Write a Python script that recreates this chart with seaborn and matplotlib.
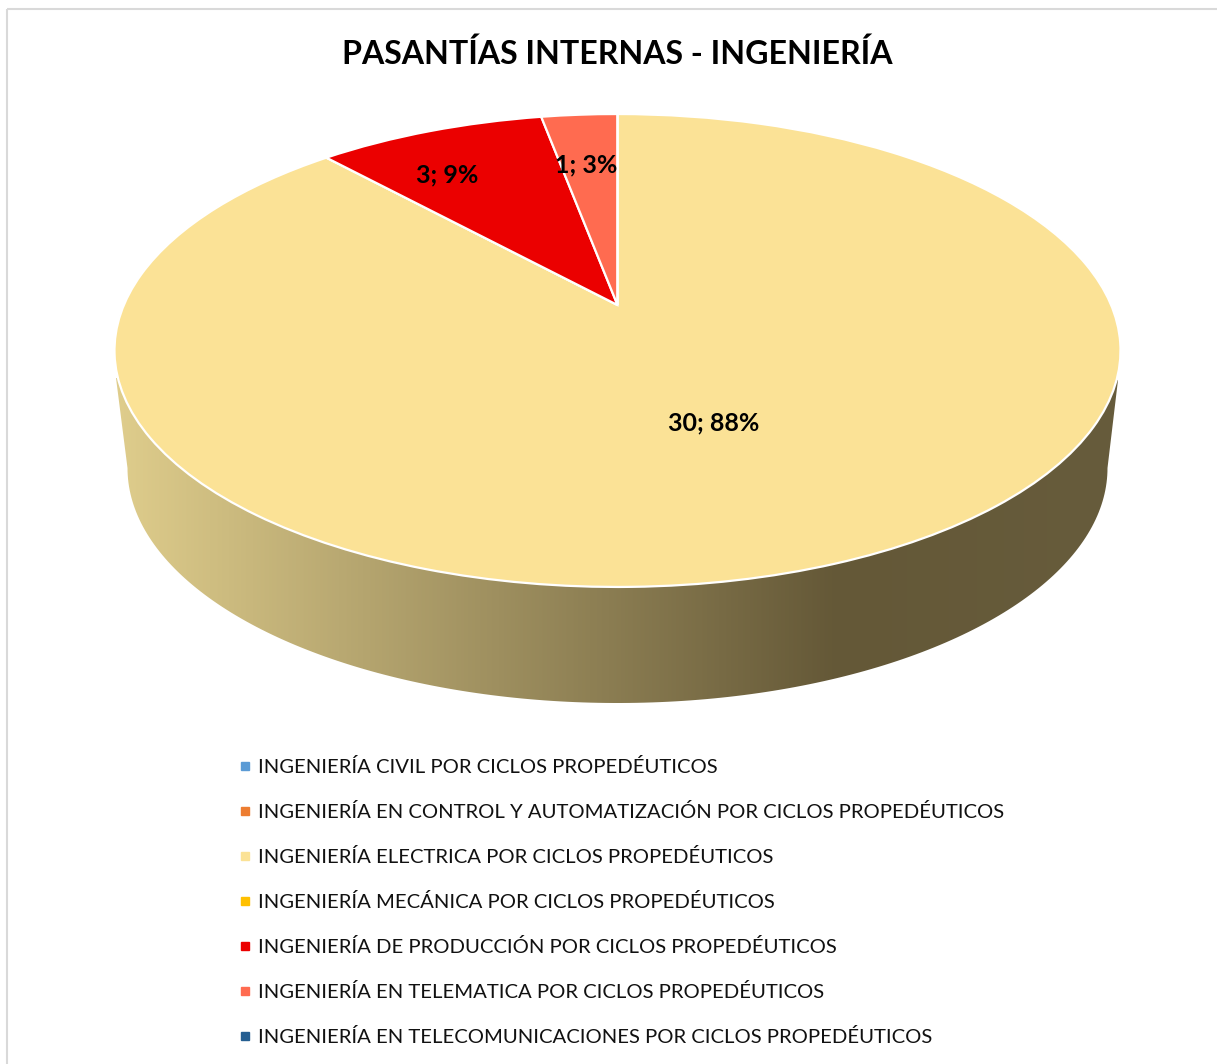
import numpy as np
import matplotlib
matplotlib.use('Agg')
import matplotlib.pyplot as plt
import seaborn as sns
from matplotlib.colors import LinearSegmentedColormap
from matplotlib.lines import Line2D
from matplotlib.patches import Polygon, Rectangle
from matplotlib.transforms import Transform

# --- datos ---
programas = [
    'INGENIERÍA CIVIL POR CICLOS PROPEDÉUTICOS',
    'INGENIERÍA EN CONTROL Y AUTOMATIZACIÓN POR CICLOS PROPEDÉUTICOS',
    'INGENIERÍA ELECTRICA POR CICLOS PROPEDÉUTICOS',
    'INGENIERÍA MECÁNICA POR CICLOS PROPEDÉUTICOS',
    'INGENIERÍA DE PRODUCCIÓN POR CICLOS PROPEDÉUTICOS',
    'INGENIERÍA EN TELEMATICA POR CICLOS PROPEDÉUTICOS',
    'INGENIERÍA EN TELECOMUNICACIONES POR CICLOS PROPEDÉUTICOS',
]
pasantias = [0, 0, 30, 0, 3, 1, 0]
colores = ['#5B9BD5', '#ED7D31', '#FBE296', '#FFC000', '#EB0000', '#FF6B50', '#255E91']
titulo = 'PASANTÍAS INTERNAS - INGENIERÍA'

# --- geometria de la vista inclinada (pixeles) ---
CX, APEX_Y = 617.5, 305.0
A, B, K = 493.6, 227.7, 0.1924


class Perspectiva(Transform):
    """Lleva el circulo unitario del pie a la elipse inclinada."""
    input_dims = 2
    output_dims = 2
    is_affine = False

    def transform_non_affine(self, values):
        values = np.asarray(values, dtype=float)
        den = 1 + K * values[:, 1]
        return np.column_stack([CX + A * values[:, 0] / den, APEX_Y - B * values[:, 1] / den])


sns.set_theme(style='white')
plt.rcParams['font.family'] = ['Lato', 'DejaVu Sans']

fig = plt.figure(figsize=(12.17, 10.64), dpi=100)
ax = fig.add_axes([0, 0, 1, 1])

wedges, _ = ax.pie(pasantias, colors=colores, startangle=90, counterclock=False,
                   wedgeprops={'edgecolor': 'white', 'linewidth': 1.6})
for w in wedges:
    w.set_transform(Perspectiva() + ax.transData)
    w.set_zorder(3)

ax.set_aspect('auto')
ax.set_xlim(0, 1217)
ax.set_ylim(1064, 0)
ax.axis('off')

# pared lateral con degradado
t = np.linspace(0, np.pi, 200)
borde = np.column_stack([CX + 490 * np.cos(t), 468 + 235 * np.sin(t)])
pared = Polygon(np.vstack([[[1118, 380]], borde, [[116, 378]]]), closed=True,
                facecolor='none', edgecolor='none', transform=ax.transData)
ax.add_patch(pared)
cmap = LinearSegmentedColormap.from_list('pared', [
    (0.0, '#DFCD8C'), (0.72, '#645837'), (1.0, '#675C3C')])
img = ax.imshow(np.linspace(0, 1, 512)[None, :], cmap=cmap, aspect='auto',
                extent=(116, 1118, 710, 370), zorder=2)
img.set_clip_path(pared)
ax.set_xlim(0, 1217)
ax.set_ylim(1064, 0)

# marco del grafico
ax.add_patch(Rectangle((7, 9), 1300, 1100, fill=False, edgecolor='#D9D9D9', linewidth=1.5, zorder=1))

ax.text(617, 54, titulo, ha='center', va='center', fontsize=23.15, fontweight='bold', color='black', zorder=5)

# etiquetas de datos
total = sum(pasantias)
centros = {2: (714, 423), 4: (447, 175), 5: (586, 165)}
for i, (x, y) in centros.items():
    ax.text(x, y, f'{pasantias[i]}; {pasantias[i] / total * 100:.0f}%', ha='center', va='center',
            fontsize=18, fontweight='bold', color='black', zorder=5)

handles = [Line2D([], [], linestyle='none', marker='s', markersize=5.8, color=c) for c in colores]
ax.legend(handles, programas, loc='upper left', bbox_to_anchor=(238 / 1217, 1 - 758 / 1064),
          frameon=False, fontsize=14.57, labelcolor='#111111', labelspacing=1.337,
          handlelength=0.7, handletextpad=0.3, borderpad=0, borderaxespad=0)

fig.savefig('out.png', dpi=100)
